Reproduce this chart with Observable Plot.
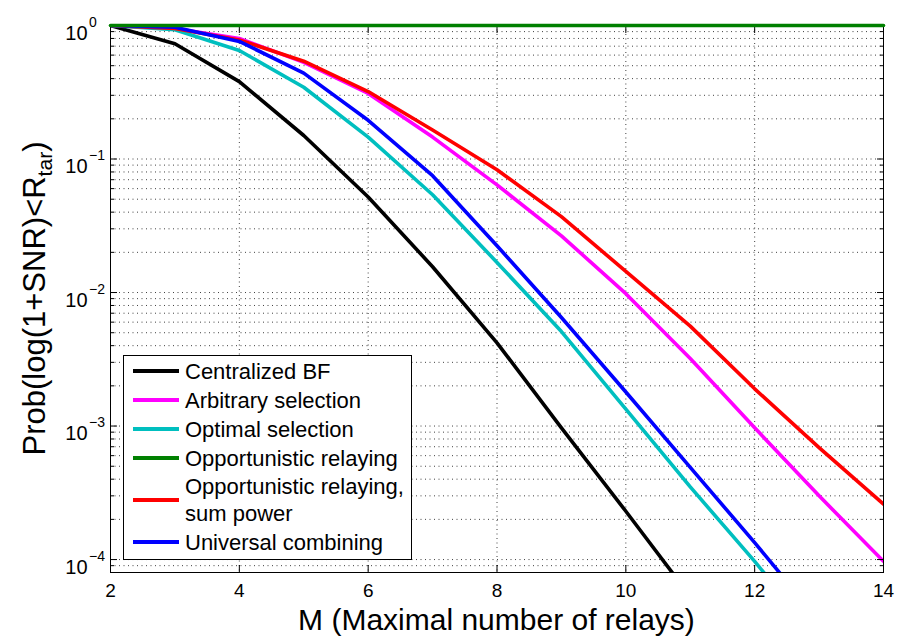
<!DOCTYPE html>
<html><head><meta charset="utf-8">
<script src="https://cdn.jsdelivr.net/npm/d3@7"></script>
<script src="https://cdn.jsdelivr.net/npm/@observablehq/plot@0.6"></script>
<style>
body{margin:0;background:#fff;font-family:"Liberation Sans",Arial,Helvetica,sans-serif;}
#wrap{position:relative;width:899px;height:636px;}
#legend{position:absolute;left:123px;top:355px;width:287px;border:1px solid #000;background:#fff;padding:0.5px 0 2px 0;}
.row{display:flex;align-items:center;}
.sw{width:46px;height:4px;margin-left:9px;margin-right:6px;flex:none;}
.lab{font-size:22px;line-height:29px;color:#000;white-space:nowrap;}
.lab.two{line-height:27.5px;}
</style></head><body><div id="wrap"></div>
<script>
// ---- data ----
const M = [2, 3, 4, 5, 6, 7, 8, 9, 10, 11, 12, 13, 14];
const centralizedBF = [1, 0.73, 0.38, 0.15, 0.052, 0.0156, 0.0042, 0.00097, 0.00023, 0.000053];
const arbitrarySelection = [1, 0.95, 0.80, 0.53, 0.31, 0.146, 0.064, 0.0266, 0.0098, 0.0032, 0.00097, 0.00030, 0.000097];
const optimalSelection = [1, 0.93, 0.65, 0.345, 0.146, 0.054, 0.0168, 0.0051, 0.00134, 0.00035, 0.000097, 0.000025];
const opportunisticRelaying = [1, 1, 1, 1, 1, 1, 1, 1, 1, 1, 1, 1, 1];
const opportunisticSumPower = [1, 0.95, 0.78, 0.54, 0.32, 0.165, 0.083, 0.037, 0.0144, 0.0056, 0.0019, 0.00069, 0.00026];
const universalCombining = [1, 0.97, 0.76, 0.44, 0.195, 0.075, 0.0224, 0.0065, 0.0018, 0.00049, 0.000134, 0.000035];

const seriesNames = ["Centralized BF", "Arbitrary selection", "Optimal selection", "Opportunistic relaying", "Opportunistic relaying,\nsum power", "Universal combining"];
const seriesColors = ["#000000", "#ff00ff", "#00bfbf", "#008000", "#ff0000", "#0000ff"];
const seriesValues = [centralizedBF, arbitrarySelection, optimalSelection, opportunisticRelaying, opportunisticSumPower, universalCombining];

const xTicks = [2, 4, 6, 8, 10, 12, 14];
const xGrid = [4, 6, 8, 10, 12];
const yTicks = [1e-4, 1e-3, 1e-2, 1e-1, 1];
const yTickLabels = ["10^\u22124", "10^\u22123", "10^\u22122", "10^\u22121", "10^0"];
const yDomain = [8.0e-5, 1];
const xLabel = "M (Maximal number of relays)";

// minor ticks 2..9 x 10^k
const yMinor = [];
for (let e = -5; e <= -1; e++) for (let k = 2; k <= 9; k++) { const v = k * Math.pow(10, e); if (v >= yDomain[0] && v <= 1) yMinor.push(v); }
const yGridAll = yMinor.concat(yTicks);

const series = seriesValues.map((vals, s) => vals.map((p, i) => ({M: M[i], p, s})));

const gridStyle = {stroke: "#000", strokeOpacity: 0.75, strokeDasharray: "1,3.5", strokeWidth: 1};
const lineMarks = series.map((rows, s) =>
  Plot.line(rows, {x: "M", y: "p", stroke: seriesColors[s], strokeWidth: 3.6, clip: s !== 3})
);

const yFmt = d => {
  let best = 0, bd = Infinity;
  yTicks.forEach((t, i) => { const dd = Math.abs(Math.log10(t) - Math.log10(d)); if (dd < bd) { bd = dd; best = i; } });
  return yTickLabels[best];
};

const plot = Plot.plot({
  width: 899, height: 636,
  marginLeft: 110, marginRight: 16, marginTop: 25, marginBottom: 64,
  x: {domain: [2, 14]},
  y: {type: "log", domain: yDomain},
  style: {fontFamily: '"Liberation Sans", Arial, Helvetica, sans-serif', color: "#000", background: "#fff", overflow: "visible"},
  marks: [
    Plot.gridX(xGrid, gridStyle),
    Plot.gridY(yGridAll, gridStyle),
    ...lineMarks.filter((m, s) => s !== 3),
    Plot.frame({stroke: "#000", strokeWidth: 1}),
    Plot.axisX(xTicks, {anchor: "bottom", tickSize: 0, tickPadding: 11, label: null}),
    Plot.axisX(xTicks, {anchor: "bottom", tickSize: -7, fill: "none", label: null}),
    Plot.axisX(xTicks, {anchor: "top", tickSize: -7, fill: "none", label: null}),
    Plot.axisY(yTicks, {anchor: "left", tickSize: 0, tickPadding: 23, label: null, tickFormat: yFmt}),
    Plot.axisY(yTicks, {anchor: "left", tickSize: -7, fill: "none", label: null}),
    Plot.axisY(yTicks, {anchor: "right", tickSize: -7, fill: "none", label: null}),
    Plot.axisY(yMinor, {anchor: "left", tickSize: -4, fill: "none", label: null}),
    Plot.axisY(yMinor, {anchor: "right", tickSize: -4, fill: "none", label: null}),
    lineMarks[3]
  ]
});

const svg = d3.select(plot);
svg.selectAll('g[aria-label="x-axis tick label"]').style("font-size", "19px");
svg.selectAll('g[aria-label="x-axis tick label"] text').style("font-size", "19px");
// "10" right-aligned at the anchor, exponent hanging to its right
svg.selectAll('g[aria-label="y-axis tick label"]').style("font-size", "20px");
svg.selectAll('g[aria-label="y-axis tick label"] text').each(function () {
  const parts = (this.textContent || "").split("^");
  if (parts.length < 2) return;
  const t = d3.select(this);
  t.style("font-size", "20px").attr("dy", "0.4em").attr("text-anchor", "start").attr("dx", "-22.2");
  t.text(null);
  t.append("tspan").text(parts[0]);
  t.append("tspan").attr("dx", "1.5").attr("dy", "-13").style("font-size", "14px").text(parts[1]);
});

// axis titles
const cx = (110 + 883) / 2, cy = (25 + 572) / 2;
svg.append("text").attr("x", cx).attr("y", 630).attr("text-anchor", "middle")
  .style("font-size", "30px").attr("fill", "#000").text(xLabel);
const yt = svg.append("text").attr("transform", `translate(45,${cy}) rotate(-90)`)
  .attr("text-anchor", "middle").style("font-size", "31px").attr("fill", "#000");
yt.append("tspan").text("Prob(log(1+SNR)<R");
yt.append("tspan").attr("dy", "7").style("font-size", "21px").text("tar");
yt.append("tspan").attr("dy", "-7").text(")");

const wrap = document.getElementById("wrap");
wrap.appendChild(plot);

// legend
const lg = document.createElement("div");
lg.id = "legend";
seriesNames.forEach((name, s) => {
  const row = document.createElement("div"); row.className = "row";
  const sw = document.createElement("div"); sw.className = "sw"; sw.style.background = seriesColors[s];
  const lab = document.createElement("div"); lab.className = "lab" + (name.includes("\n") ? " two" : "");
  name.split("\n").forEach((ln, j) => { if (j) lab.appendChild(document.createElement("br")); lab.appendChild(document.createTextNode(ln)); });
  row.appendChild(sw); row.appendChild(lab); lg.appendChild(row);
});
wrap.appendChild(lg);
</script>
</body></html>
